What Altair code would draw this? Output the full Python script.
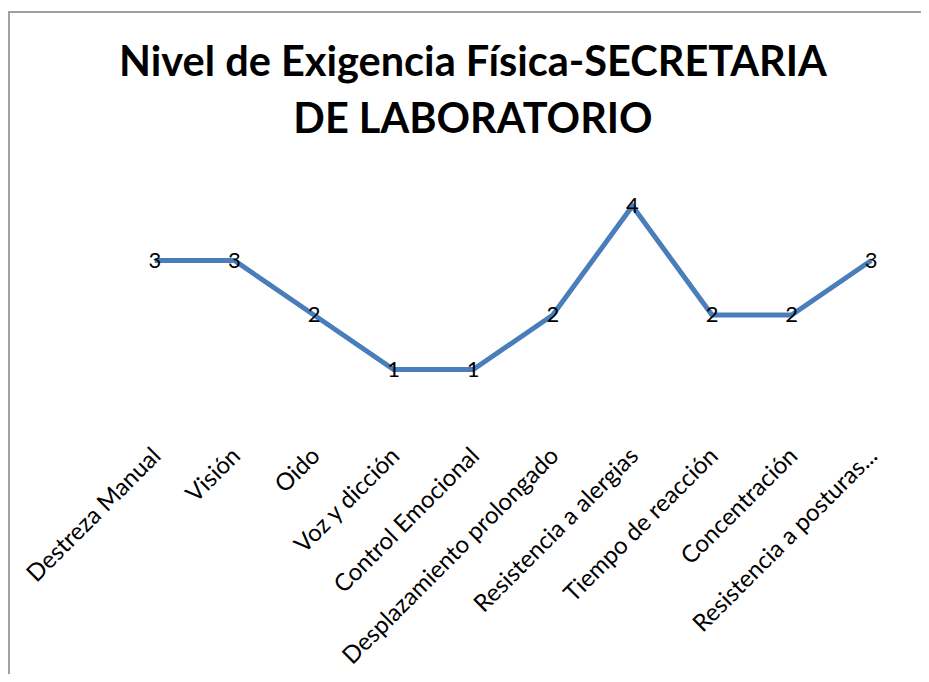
import altair as alt
import pandas as pd

categories = ["Destreza Manual", "Visión", "Oido", "Voz y dicción", "Control Emocional",
              "Desplazamiento prolongado", "Resistencia a alergias", "Tiempo de reacción",
              "Concentración", "Resistencia a posturas..."]
values = [3, 3, 2, 1, 1, 2, 4, 2, 2, 3]
title_lines = ["Nivel de Exigencia Física-SECRETARIA", "DE LABORATORIO"]

df = pd.DataFrame({"cat": categories, "val": values})

x = alt.X("cat:N", sort=categories,
          scale=alt.Scale(type="point", padding=0.5),
          axis=alt.Axis(labelAngle=-45, labelAlign="right", labelBaseline="middle",
                        labelPadding=28, labelOffset=2, labelFont="Lato", labelFontSize=24,
                        labelColor="black", domain=False, ticks=False, grid=False,
                        title=None, labelOverlap=False, labelLimit=0))
y = alt.Y("val:Q", scale=alt.Scale(domain=[0, 4], nice=False, zero=True), axis=None)

base = alt.Chart(df)
line = base.mark_line(color="#4A7EBB", strokeWidth=5).encode(x=x, y=y)
labels = base.mark_text(font="Lato", fontSize=22, color="black",
                        align="center", baseline="middle").encode(x=x, y=y, text="val:Q")

one = pd.DataFrame({"a": [0]})
frame = alt.Chart(one).mark_rect(
    fill="transparent", stroke="#A0A0A0", strokeWidth=2
).encode(x=alt.value(-106), x2=alt.value(900), y=alt.value(-194), y2=alt.value(600))

title = alt.Chart(one).mark_text(
    text=title_lines, font="Lato", fontSize=41.5, fontWeight="bold", color="black",
    align="center", baseline="alphabetic", lineHeight=57
).encode(x=alt.value(358), y=alt.value(-130))

chart = alt.layer(frame, title, line, labels).properties(
    width=796, height=218,
    autosize=alt.AutoSizeParams(type="none"),
    padding={"left": 107, "top": 198, "right": 10, "bottom": 250},
    background="white",
).configure_view(stroke=None)

chart.save("out.html", embed_options={"renderer": "svg", "actions": False})
